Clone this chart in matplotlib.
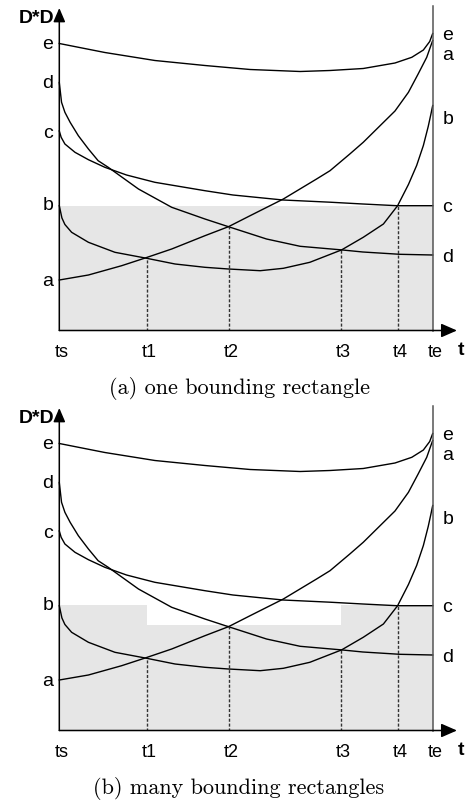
"""
Sketch of the D*D distance curves between ts and te, with the bounding
rectangle(s) shaded: (a) one rectangle, (b) many rectangles.
"""

import matplotlib
matplotlib.use("Agg")
import matplotlib.pyplot as plt

# time axis, 0 = ts, 100 = te
tick_labels = ["ts", "t1", "t2", "t3", "t4", "te"]
tick_pos = [0, 23.4, 45.4, 75.4, 90.8, 100]

# dashed drop lines at t1..t4 (height of the crossing point)
drop_pos = [23.4, 45.4, 75.4, 90.8]
drop_height = [72.5, 103.8, 80.8, 124.8]

# curves
e_t = [0, 12.2, 25.6, 39.0, 51.1, 64.5, 72.5, 81.4, 89.9, 94.4, 97.5, 99.2, 100]
e_h = [287, 278, 270, 265, 261, 259, 260, 262, 267.5, 273.2, 280.5, 289, 297]

d_t = [0, 0.6, 1.5, 2.9, 5.1, 7.8, 10.4, 13.1, 21.2, 30.1, 39.0, 45.3, 55.5,
       64.5, 75.6, 81.3, 91.2, 100]
d_h = [248, 228.2, 218.2, 208.2, 194.8, 181.5, 169.8, 163.2, 141.5, 123.2, 111.5,
       103.8, 91.5, 84.2, 80.6, 78.5, 76.2, 75.5]

c_t = [0, 0.5, 1.5, 4.2, 7.8, 12.2, 18.0, 25.6, 39.0, 46.5, 59.9, 72.5, 81.3, 90.4, 100]
c_h = [199.5, 193.2, 186.5, 178.2, 170.8, 163.2, 155.5, 148.2, 139.8, 135.5, 130.5,
       128.3, 126.5, 124.8, 124.8]

b_t = [0, 0.7, 1.5, 3.3, 7.8, 14.9, 23.0, 31.0, 39.0, 45.3, 53.8, 60.0, 67.1, 75.6,
       81.4, 86.8, 90.6, 93.5, 95.7, 97.5, 98.8, 99.5, 100]
b_h = [124.8, 112.5, 106, 98.2, 88.2, 78.2, 72.5, 66.5, 63.2, 61.5, 59.8, 62.2, 68.2,
       80.6, 93.2, 106.5, 124.8, 146, 165, 185, 204, 216, 225]

a_t = [0, 7.8, 16.7, 23.0, 30.1, 39.0, 45.3, 51.1, 60.0, 68.9, 72.5, 77.8, 81.4,
       89.9, 93.5, 96.1, 98.4, 99.5, 100]
a_h = [50.5, 55.5, 64.8, 72.5, 81.5, 94.8, 103.8, 114.8, 131.5, 151.5, 159.8, 176.5,
       188.2, 219.5, 238.2, 256.5, 273.2, 284.8, 290]

# curve labels at both ends
left_labels = ["e", "d", "c", "b", "a"]
left_label_h = [287, 248, 198, 126, 50]
right_labels = ["e", "a", "b", "c", "d"]
right_label_h = [296.5, 276.5, 212.5, 124.5, 73.5]

# shaded rectangles: left edges, widths, heights
rect_a_left = [0]
rect_a_width = [100]
rect_a_height = [124.8]

rect_b_left = [0, 23.4, 75.4]
rect_b_width = [23.4, 52.0, 24.6]
rect_b_height = [125.5, 105.5, 125.5]

FIG_W, FIG_H = 466, 803
SANS = "Liberation Sans"


def draw_panel(fig, base_px, rect_left, rect_width, rect_height, caption):
    # axes placed so that ts..te spans x 59.3..432.7 px and the baseline sits at base_px
    left = 59.3 / FIG_W
    width = 373.4 / FIG_W
    bottom = (FIG_H - base_px) / FIG_H
    height = 320 / FIG_H
    ax = fig.add_axes([left, bottom, width, height])
    ax.set_xlim(0, 100)
    ax.set_ylim(0, 320)
    ax.axis("off")

    # shading
    ax.bar(rect_left, rect_height, width=rect_width, align="edge",
           color="#e6e6e6", linewidth=0, zorder=1)

    # dashed drop lines
    ax.vlines(drop_pos, 0, drop_height, colors="#333333", linewidth=1.0,
              linestyles=(0, (2.2, 1.3)), zorder=2)

    # curves
    for ts_, hs_ in [(e_t, e_h), (d_t, d_h), (c_t, c_h), (b_t, b_h), (a_t, a_h)]:
        ax.plot(ts_, hs_, color="black", linewidth=1.0, zorder=3,
                solid_joinstyle="round", clip_on=False)

    # right boundary line at te
    ax.plot([100, 100], [0, 324.5], color="#555555", linewidth=1.1, zorder=4, clip_on=False)

    # axes with arrows
    ax.annotate("", xy=(0, 322.5), xytext=(0, 0), xycoords="data", annotation_clip=False,
                arrowprops=dict(arrowstyle="-|>,head_length=0.7,head_width=0.3",
                                color="black", lw=1.1, mutation_scale=12,
                                shrinkA=0, shrinkB=0), zorder=5)
    ax.annotate("", xy=(106.5, 0), xytext=(0, 0), xycoords="data", annotation_clip=False,
                arrowprops=dict(arrowstyle="-|>,head_length=0.8,head_width=0.35",
                                color="black", lw=1.1, mutation_scale=12,
                                shrinkA=0, shrinkB=0), zorder=5)

    # axis titles
    ax.text(-1.4, 313, "D*D", ha="right", va="center", fontsize=14,
            fontweight="bold", family=SANS, clip_on=False)
    ax.text(107.6, -19.5, "t", ha="center", va="center", fontsize=14,
            fontweight="bold", family=SANS, clip_on=False)

    # time tick labels
    for lab, pos in zip(tick_labels, tick_pos):
        ax.text(pos + 0.6, -21.5, lab, ha="center", va="center", fontsize=13,
                family=SANS, clip_on=False)

    # curve labels
    for lab, h in zip(left_labels, left_label_h):
        ax.text(-1.6, h, lab, ha="right", va="center", fontsize=14,
                family=SANS, clip_on=False)
    for lab, h in zip(right_labels, right_label_h):
        ax.text(102.6, h, lab, ha="left", va="center", fontsize=14,
                family=SANS, clip_on=False)

    # caption
    fig.text(239 / FIG_W, 1 - (base_px + 57) / FIG_H, caption, ha="center",
             va="center", fontsize=16, family="cmr10")
    return ax


fig = plt.figure(figsize=(FIG_W / 100, FIG_H / 100), dpi=100)
fig.patch.set_facecolor("white")

draw_panel(fig, 331.5, rect_a_left, rect_a_width, rect_a_height,
           "(a) one bounding rectangle")
draw_panel(fig, 731.5, rect_b_left, rect_b_width, rect_b_height,
           "(b) many bounding rectangles")

fig.savefig("out.png", dpi=100, facecolor="white")
plt.close(fig)
